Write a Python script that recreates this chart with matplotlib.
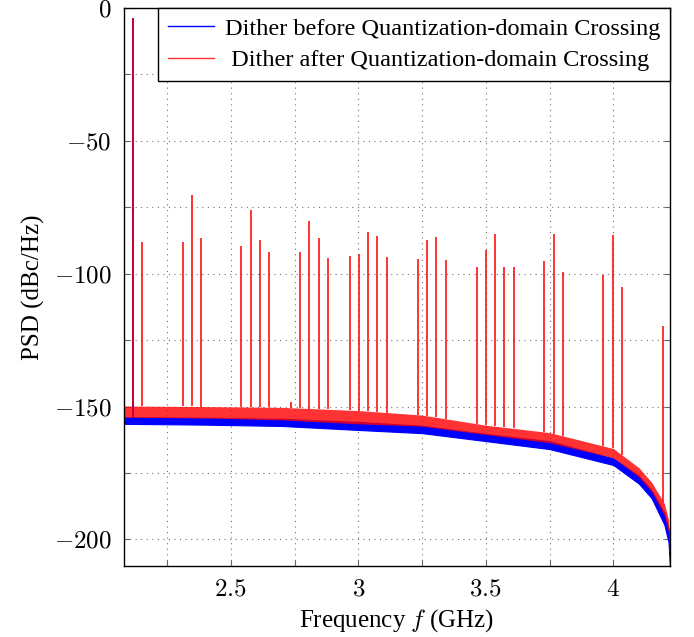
import matplotlib
matplotlib.use('Agg')
import matplotlib.pyplot as plt
import numpy as np
from matplotlib.ticker import MultipleLocator, FuncFormatter
from matplotlib.lines import Line2D

plt.rcParams['font.family'] = ['Liberation Serif', 'DejaVu Serif']
plt.rcParams['mathtext.fontset'] = 'cm'

# ---- data ----
floor_f = [2.0816, 2.4, 2.7, 3.0, 3.25, 3.5, 3.75, 4.0, 4.1, 4.15, 4.2, 4.216, 4.222]
blue_hi = [-154.0, -154.2, -154.6, -155.8, -157.2, -160.3, -163.0, -169.5, -176.0, -181.5, -190.0, -196.0, -206.0]
blue_lo = [-156.5, -156.8, -157.3, -158.8, -160.0, -163.0, -166.0, -172.0, -179.0, -184.5, -194.5, -201.0, -210.0]
red_hi = [-149.8, -150.0, -150.3, -151.5, -153.2, -157.0, -159.8, -165.8, -173.0, -178.5, -186.5, -192.5, -203.0]
red_lo = [-154.0, -154.3, -155.0, -156.5, -157.4, -160.5, -163.6, -169.3, -176.5, -182.0, -191.0, -197.0, -210.0]

tone_f = [2.1157]
tone_db = [-3.8]

spur_f = [2.0816, 2.1157, 2.1535, 2.3118, 2.347, 2.382, 2.5417, 2.578, 2.614, 2.649,
          2.735, 2.772, 2.808, 2.845, 2.880, 2.968, 3.003, 3.037, 3.075, 3.112,
          3.233, 3.2686, 3.305, 3.342, 3.465, 3.500, 3.537, 3.572, 3.609, 3.730,
          3.767, 3.803, 3.958, 3.998, 4.033, 4.196]
spur_db = [-88.2, -3.8, -88.2, -88.2, -70.3, -86.6, -89.7, -76.2, -87.2, -92.0,
           -148.4, -91.7, -80.1, -86.5, -93.9, -93.5, -92.5, -84.3, -85.7, -93.6,
           -94.4, -87.2, -86.2, -94.7, -97.5, -91.0, -85.1, -97.5, -97.6, -95.4,
           -85.0, -99.5, -100.6, -85.3, -104.9, -119.5]

labels = ['Dither before Quantization-domain Crossing',
          ' Dither after Quantization-domain Crossing']
x_ticks = [2.5, 3.0, 3.5, 4.0]
y_ticks = [0, -50, -100, -150, -200]

# ---- figure ----
fig = plt.figure(figsize=(6.94, 6.37), dpi=100)
ax = fig.add_axes([124/694, 1-566/637, (670-124)/694, (566-8)/637])

blue = (0, 0, 1)
red = (1, 0, 0)

ax.fill_between(floor_f, blue_lo, blue_hi, facecolor=blue, edgecolor=blue, lw=0.8, zorder=2)
ax.vlines(tone_f, np.interp(tone_f, floor_f, blue_lo), tone_db, colors=[blue], lw=1.4, zorder=2)
ax.fill_between(floor_f, red_lo, red_hi, color=red, alpha=0.8, lw=0, zorder=3)
ax.vlines(spur_f, np.interp(spur_f, floor_f, red_hi), spur_db, colors=[red], alpha=0.8, lw=1.4, zorder=3)

ax.set_xlim(floor_f[0], floor_f[-1])
ax.set_ylim(-210, 0)
ax.set_xticks(x_ticks)
ax.set_yticks(y_ticks)
ax.xaxis.set_minor_locator(MultipleLocator(0.25))
ax.yaxis.set_minor_locator(MultipleLocator(25))
ax.xaxis.set_major_formatter(FuncFormatter(lambda v, p: f'${v:g}$'))
ax.yaxis.set_major_formatter(FuncFormatter(lambda v, p: f'${v:g}$'))

ax.grid(True, which='both', linestyle=(0, (1, 4)), color='0.45', lw=0.8, zorder=1)
ax.tick_params(which='both', direction='in', top=True, right=True, length=4,
               width=0.8, color='0.4', labelsize=18, pad=9)
for s in ax.spines.values():
    s.set_linewidth(1.0)
    s.set_color('black')
    s.set_zorder(5)

ax.set_xlabel('Frequency $f$ (GHz)', fontsize=18, labelpad=5)
ax.set_ylabel('PSD (dBc/Hz)', fontsize=18, labelpad=6)

handles = [Line2D([], [], color=blue, lw=1.0), Line2D([], [], color=red, alpha=0.8, lw=1.0)]
leg = ax.legend(handles, labels, loc='upper right', fontsize=17.5, frameon=True, fancybox=False,
                edgecolor='black', framealpha=1, borderaxespad=0, handlelength=1.9,
                borderpad=0.4, labelspacing=0.4, handletextpad=0.45)
leg.get_frame().set_linewidth(1.0)
leg.set_zorder(6)

fig.savefig('out.png', dpi=100)
